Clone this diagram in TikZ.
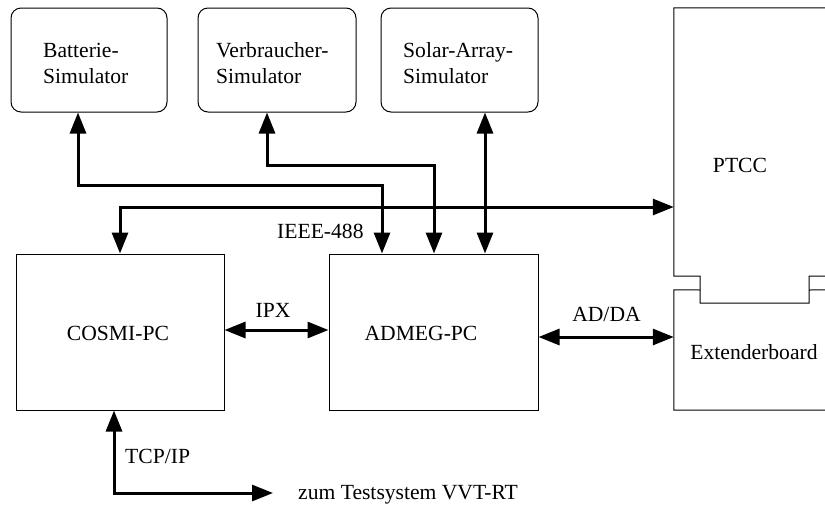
\documentclass[tikz,border=0pt]{standalone}
\usepackage{fontspec}
\setmainfont{Liberation Serif}
\usetikzlibrary{arrows.meta}
\begin{document}
\begin{tikzpicture}[x=1pt,y=-1pt,
  font=\fontsize{21.6}{27}\selectfont,
  box/.style={draw, line width=1pt, inner sep=0pt},
  ghost/.style={draw=none, inner sep=0pt},
  outline/.style={line width=1pt},
  txt/.style={inner sep=0pt},
  conn/.style={line width=3pt, {Triangle[length=21pt,width=16pt]}-{Triangle[length=21pt,width=16pt]}}]
\useasboundingbox (0,0) rectangle (825,504);
\clip (0,0) rectangle (825,504);
% simulator boxes
\node[box, rounded corners=10pt, minimum width=156pt, minimum height=104pt] (bat) at (89,60) {};
\node[box, rounded corners=10pt, minimum width=158pt, minimum height=104pt] (verb) at (277,60) {};
\node[box, rounded corners=10pt, minimum width=157pt, minimum height=104pt] (solar) at (459.5,60) {};
\node[txt, anchor=base west] (bat1) at (43,57) {Batterie-};
\node[txt, anchor=base west] (bat2) at (43,83) {Simulator};
\node[txt, anchor=base west] (verb1) at (216,57) {Verbraucher-};
\node[txt, anchor=base west] (verb2) at (216,83) {Simulator};
\node[txt, anchor=base west] (sol1) at (403,57) {Solar-Array-};
\node[txt, anchor=base west] (sol2) at (403,83) {Simulator};
% PCs
\node[box, minimum width=208pt, minimum height=156pt] (cosmi) at (120,332) {};
\node[box, minimum width=209pt, minimum height=156pt] (admeg) at (433.5,332) {};
\node[txt, anchor=base] (cosmit) at (118,340) {COSMI-PC};
\node[txt, anchor=base] (admegt) at (421,340) {ADMEG-PC};
% PTCC and Extenderboard
\node[ghost, minimum width=186pt, minimum height=268pt] (ptcc) at (767,142) {};
\node[ghost, minimum width=186pt, minimum height=120pt] (ext) at (767,350) {};
\draw[outline] (ptcc.south west) -- (ptcc.north west) -- (ptcc.north east) -- (ptcc.south east)
  -- (809,276) -- (809,303) -- (700,303) -- (700,276) -- cycle;
\draw[outline] (700,290) -- (ext.north west) -- (ext.south west) -- (ext.south east) -- (ext.north east) -- (809,290);
\node[txt, anchor=base] (ptcct) at (740,172) {PTCC};
\node[txt, anchor=base] (extt) at (754,359) {Extenderboard};
% connectors
\coordinate (b1) at (78,185);
\coordinate (b2) at (382,185);
\draw[conn] (b1 |- bat.south) -- (b1) -- (b2) -- (b2 |- admeg.north);
\coordinate (v1) at (267,165);
\coordinate (v2) at (434,165);
\draw[conn] (v1 |- verb.south) -- (v1) -- (v2) -- (v2 |- admeg.north);
\coordinate (s1) at (485,150);
\draw[conn] (s1 |- solar.south) -- (s1 |- admeg.north);
\coordinate (i1) at (120,207);
\draw[conn] (i1 |- cosmi.north) -- (i1) -- (i1 -| ptcc.west);
\coordinate (ipx) at (276,330);
\draw[conn] (ipx -| cosmi.east) -- (ipx -| admeg.west);
\coordinate (adda) at (606,337);
\draw[conn] (adda -| admeg.east) -- (adda -| ext.west);
\coordinate (t1) at (114,493);
\coordinate (zum) at (273,493);
\draw[conn] (t1 |- cosmi.south) -- (t1) -- (zum);
% labels
\node[txt, anchor=base west] (ieee) at (277,238) {IEEE-488};
\node[txt, anchor=base] (ipxl) at (273,317) {IPX};
\node[txt, anchor=base] (addal) at (606.5,321) {AD/DA};
\node[txt, anchor=base west] (tcpl) at (125,463) {TCP/IP};
\node[txt, anchor=base west] (zuml) at (298,499) {zum Testsystem VVT-RT};
\end{tikzpicture}
\end{document}
